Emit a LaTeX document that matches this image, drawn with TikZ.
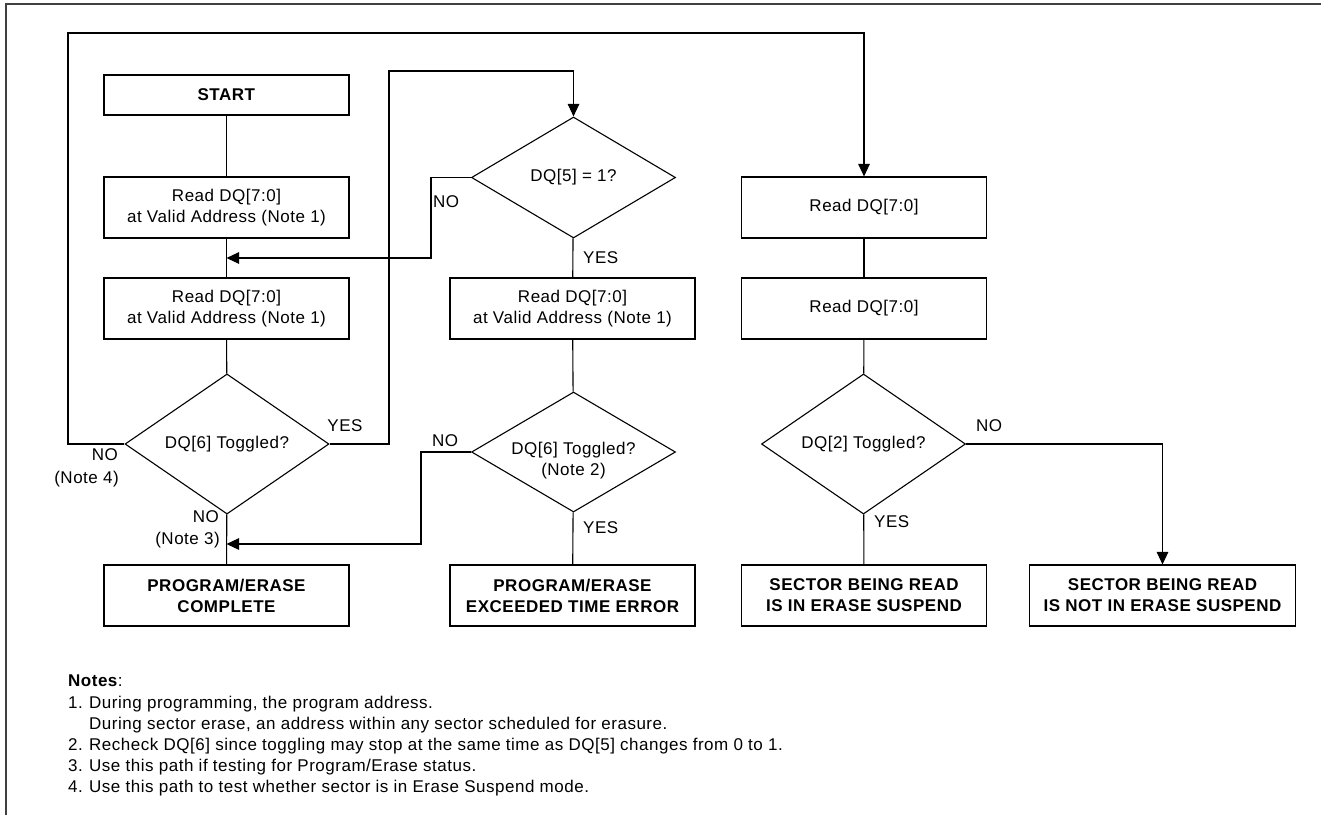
\documentclass[tikz,border=0pt]{standalone}
\usepackage{fontspec}
\setmainfont{Liberation Sans}[LetterSpace=3]
\usetikzlibrary{shapes.geometric,arrows.meta}
\begin{document}
\begin{tikzpicture}[x=1pt,y=-1pt,
  every node/.style={font=\fontsize{17}{21}\selectfont},
  box/.style={draw,line width=1.1pt,align=center,inner sep=0pt},
  stdbox/.style={box,minimum width=245pt,minimum height=61pt},
  dia/.style={draw,line width=1.1pt,diamond,align=center,inner sep=0pt,minimum width=204pt,minimum height=122pt},
  bold/.style={font=\fontsize{17}{21}\selectfont\bfseries},
  lbl/.style={inner sep=0pt},
  conn/.style={line width=1.1pt},
  arr/.style={line width=1.1pt,-{Triangle[length=12.5pt,width=11.5pt]}}]
\useasboundingbox (0,0) rectangle (1321,815);
\draw[line width=1.4pt,black!75] (6,815) -- (6,4) -- (1321,4);

% column A
\node[stdbox,minimum height=40pt] (start) at (226.5,95) {\textbf{START}};
\node[stdbox] (r1) at (226.5,207.5) {Read DQ[7:0]\\at Valid Address (Note 1)};
\node[stdbox] (r2) at (226.5,308.5) {Read DQ[7:0]\\at Valid Address (Note 1)};
\node[dia] (d1) at (227,444) {DQ[6] Toggled?};
\node[stdbox,bold] (pe) at (226.5,595.5) {PROGRAM/ERASE\\COMPLETE};

% column B
\node[dia,minimum height=121pt] (d5) at (573.5,177.5) {DQ[5] = 1?};
\node[stdbox] (r3) at (572.5,308.5) {Read DQ[7:0]\\at Valid Address (Note 1)};
\node[dia,minimum height=120pt] (d6) at (573.5,452) {};
\node[lbl,align=center] (d6t) at ([yshift=-9pt]d6.center) {DQ[6] Toggled?\\(Note 2)};
\node[stdbox,bold] (ex) at (572.5,595.5) {PROGRAM/ERASE\\EXCEEDED TIME ERROR};

% column C
\node[stdbox] (r4) at (864,207.5) {Read DQ[7:0]};
\node[stdbox] (r5) at (864,308.5) {Read DQ[7:0]};
\node[dia] (d2) at (863.5,444) {DQ[2] Toggled?};
\node[stdbox,bold] (in) at (864,595.5) {SECTOR BEING READ\\IS IN ERASE SUSPEND};
\node[box,bold,minimum width=266pt,minimum height=61pt] (notin) at (1162.5,595.5) {SECTOR BEING READ\\IS NOT IN ERASE SUSPEND};

% coordinates for bends
\coordinate (l1) at (68,33);
\coordinate (y1) at (389,71);
\coordinate (n5) at (431,258);
\coordinate (n6) at (421,544);

% connectors
\draw[conn] (start) -- (r1);
\draw[conn] (r1) -- (r2);
\draw[conn] (r2) -- (d1);
\draw[conn] (d1) -- (pe);
\draw[conn] (d5) -- (r3);
\draw[conn] (r3) -- (d6);
\draw[conn] (d6) -- (ex);
\draw[conn] (r4) -- (r5);
\draw[conn] (r5) -- (d2);
\draw[conn] (d2) -- (in);
\draw[arr] (d1.west) -| (l1) -| (r4.north);
\draw[arr] (d1.east) -| (y1) -| (d5.north);
\draw[arr] (d5.west) -| (n5) -- (n5 -| r1.south);
\draw[arr] (d6.west) -| (n6) -- (n6 -| pe.north);
\draw[arr] (d2.east) -| (notin.north);

% labels
\node[lbl] (t1) at (345,426) {YES};
\node[lbl,anchor=east] (t2) at (118,455) {NO};
\node[lbl,anchor=east] (t3) at (119,479) {(Note 4)};
\node[lbl,anchor=east] (t4) at (219,517) {NO};
\node[lbl,anchor=east] (t5) at (220,540) {(Note 3)};
\node[lbl,anchor=west] (t6) at (433,202) {NO};
\node[lbl,anchor=west] (t7) at (583,258) {YES};
\node[lbl,anchor=west] (t8) at (432,441) {NO};
\node[lbl,anchor=west] (t9) at (583,528) {YES};
\node[lbl,anchor=west] (t10) at (976,426) {NO};
\node[lbl,anchor=west] (t11) at (874,522) {YES};

% notes
\node[lbl,anchor=north west,align=left,font=\fontsize{17}{21.2}\selectfont] (notes) at (68,675) {%
\textbf{Notes}:\\
\makebox[21pt][l]{1.}During programming, the program address.\\
\makebox[21pt][l]{}During sector erase, an address within any sector scheduled for erasure.\\
\makebox[21pt][l]{2.}Recheck DQ[6] since toggling may stop at the same time as DQ[5] changes from 0 to 1.\\
\makebox[21pt][l]{3.}Use this path if testing for Program/Erase status.\\
\makebox[21pt][l]{4.}Use this path to test whether sector is in Erase Suspend mode.};
\end{tikzpicture}
\end{document}
